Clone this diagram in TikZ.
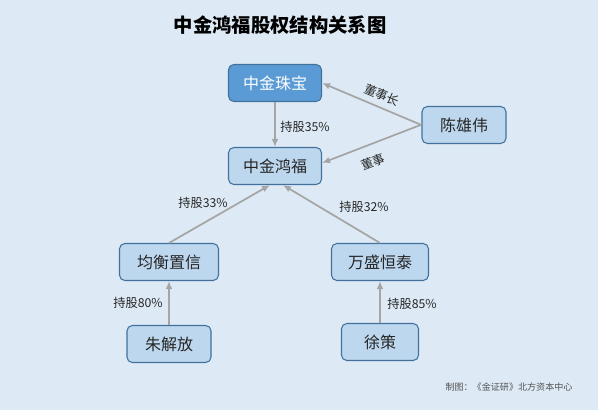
\documentclass[tikz,border=0pt]{standalone}
\usepackage{fontspec}
\setmainfont{Noto Sans CJK SC}
\usetikzlibrary{arrows.meta,calc}
\definecolor{bgc}{HTML}{DDEAF6}
\definecolor{boxf}{HTML}{BDD7EE}
\definecolor{boxd}{HTML}{41719C}
\definecolor{topf}{HTML}{5B9BD5}
\definecolor{arr}{HTML}{A5A5A5}
\definecolor{txt}{HTML}{262626}
\tikzset{
  box/.style={draw=boxd, line width=0.8pt, fill=boxf, rounded corners=4pt, inner sep=0pt,
    minimum height=27.75pt, font=\fontsize{12pt}{14pt}\selectfont, text=txt},
  topbox/.style={box, fill=topf, text=white},
  conn/.style={draw=arr, line width=1.3pt, -{Latex[length=6pt,width=5pt]}},
  lab/.style={font=\fontsize{9.2pt}{10pt}\selectfont, text=txt, inner sep=0pt}
}
\begin{document}
\begin{tikzpicture}[x=0.75pt,y=-0.75pt]
\useasboundingbox[fill=bgc] (0,0) rectangle (598,410);
\node[font=\fontsize{14.5pt}{16pt}\selectfont\bfseries, text=black] (title) at (280,25) {中金鸿福股权结构关系图};
\node[topbox, minimum width=69.75pt] (zhu) at (275,83) {中金珠宝};
\node[box, minimum width=69.75pt] (hong) at (275,166) {中金鸿福};
\node[box, minimum width=63pt] (chen) at (464,125) {陈雄伟};
\node[box, minimum width=74.25pt] (jun) at (169,262) {均衡置信};
\node[box, minimum width=72.75pt] (wan) at (380,262) {万盛恒泰};
\node[box, minimum width=63pt] (zhuj) at (169,344) {朱解放};
\node[box, minimum width=57.75pt] (xu) at (380,342) {徐策};

\draw[conn] (zhu) -- (hong);
\draw[conn] (chen.west) -- (zhu.east);
\draw[conn] ($(chen.west)+(-1,0)$) -- ($(hong.east)+(0,-3)$);
\draw[conn] (jun.north) -- ($(hong.south)+(-5,0)$);
\draw[conn] (wan.north) -- ($(hong.south)+(8,0)$);
\draw[conn] (zhuj) -- (jun);
\draw[conn] (xu) -- (wan);

\node[lab] (l1) at (305,127) {持股35\%};
\node[lab, rotate=-23] (l2) at (382,95) {董事长};
\node[lab, rotate=21] (l3) at (373,162) {董事};
\node[lab] (l4) at (203,203) {持股33\%};
\node[lab] (l5) at (364,207) {持股32\%};
\node[lab] (l6) at (138,303) {持股80\%};
\node[lab] (l7) at (412,304) {持股85\%};
\node[font=\fontsize{6.8pt}{8pt}\selectfont, text=txt!80, inner sep=0pt] (foot) at (509,387) {制图：《金证研》北方资本中心};
\end{tikzpicture}
\end{document}
